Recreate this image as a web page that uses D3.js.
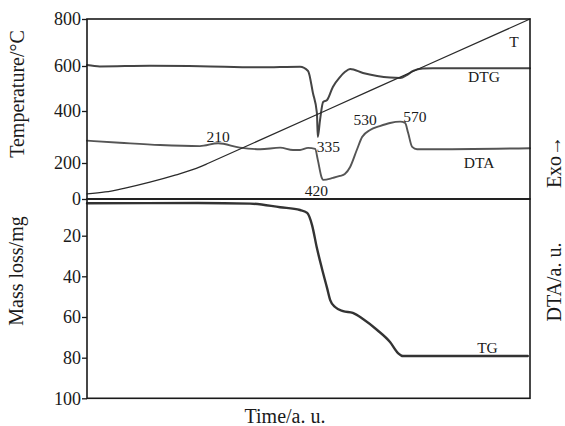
<!DOCTYPE html>
<html>
<head>
<meta charset="utf-8">
<script src="https://cdn.jsdelivr.net/npm/d3@7"></script>
<style>
  body { margin: 0; background: #fff; }
  text { font-family: "Liberation Serif", "DejaVu Serif", serif; fill: #1a1a1a; }
  .axis path { display: none; }
  .axis line { stroke: #1a1a1a; stroke-width: 1.3; }
  .axis text { font-size: 18px; }
  .curve { fill: none; stroke-linejoin: round; stroke-linecap: round; }
</style>
</head>
<body>
<div id="chart"></div>
<script>
// temperature (T) line, top panel
var tTime = [0, 4.1, 8.6, 14.2, 19.9, 25.5, 27.5, 53.7, 76.3, 100];
var tTemp = [28, 39, 61, 94, 133, 178, 200, 400, 600, 800];

// DTG, drawn on the temperature axis (a.u.)
var dtgTime = [0, 2.9, 14.2, 25.5, 39.1, 48.1, 49.9, 51.0, 51.9, 52.1, 52.6, 53.3, 54.2, 55.5, 57.1, 58.2, 59.4, 62.3, 65.5, 68.4, 70.7, 72.2, 73.6, 75.8, 78.1, 100];
var dtgVal = [604, 598, 601, 599, 594, 597, 578, 480, 392, 300, 365, 440, 449, 507, 551, 573, 587, 569, 556, 549, 547, 560, 578, 589, 590, 590];

// DTA, same axis (a.u.)
var dtaTime = [0, 7.4, 16.5, 25.5, 29.6, 34.5, 39.1, 43.6, 46.5, 48.1, 49.9, 51.5, 52.1, 53.0, 53.3, 55.5, 57.1, 58.2, 59.4, 60.9, 62.1, 63.9, 66.1, 68.4, 70.7, 71.8, 72.5, 73.4, 74.5, 76.7, 100];
var dtaVal = [286, 278, 269, 265, 276, 259, 253, 259, 250, 250, 258, 254, 212, 117, 106, 117, 128, 139, 178, 250, 300, 327, 342, 354, 359, 354, 315, 262, 253, 253, 257];

// TG, bottom panel
var tgTime = [0, 25, 36.8, 43.6, 48.1, 49.7, 50.8, 51.9, 53.0, 54.2, 54.9, 56.0, 57.8, 60.0, 62.3, 65.5, 68.4, 70.2, 71.3, 99.5];
var tgLoss = [2.3, 2.2, 2.5, 4.5, 6.0, 7.6, 14.2, 26.1, 35.9, 45.8, 51.7, 55.1, 57.1, 58.0, 61.0, 66.4, 72.3, 77.7, 79.2, 79.2];

var tempTicks = [0, 200, 400, 600, 800];
var massTicks = [20, 40, 60, 80, 100];

// curve labels: text, time, value, panel
var labelText = ["210", "335", "420", "530", "570", "T", "DTG", "DTA", "TG"];
var labelTime = [29.6, 54.5, 51.8, 62.8, 74.0, 96.4, 89.6, 88.5, 90.4];
var labelVal = [281, 242, 17, 346, 358, 681, 529, 172, 77.7];
var labelPanel = ["top", "top", "top", "top", "top", "top", "top", "top", "bottom"];

var width = 565, height = 426;
var svg = d3.select("#chart").append("svg")
    .attr("width", width)
    .attr("height", height);

var x = d3.scaleLinear().domain([0, 100]).range([87, 530]);
// the scanned axis is not evenly spaced, so follow its ticks
var yTop = d3.scaleLinear().domain([0, 200, 400, 600, 800]).range([199, 163, 111, 66, 19]);
var yBot = d3.scaleLinear().domain([0, 20, 40, 60, 80, 100]).range([199, 235.7, 276.3, 317, 357.7, 398.3]);

function drawCurve(times, vals, y, color, w) {
    var pts = times.map(function (t, i) { return [t, vals[i]]; });
    var line = d3.line()
        .curve(d3.curveMonotoneX)
        .x(function (d) { return x(d[0]); })
        .y(function (d) { return y(d[1]); });
    svg.append("path")
        .datum(pts)
        .attr("class", "curve")
        .attr("d", line)
        .attr("stroke", color)
        .attr("stroke-width", w);
}

drawCurve(dtaTime, dtaVal, yTop, "#555", 1.9);
drawCurve(dtgTime, dtgVal, yTop, "#444", 2);
drawCurve(tTime, tTemp, yTop, "#2a2a2a", 1.3);
drawCurve(tgTime, tgLoss, yBot, "#333", 2.4);

// panel frames
svg.append("rect")
    .attr("x", x(0)).attr("y", yTop(800))
    .attr("width", x(100) - x(0)).attr("height", yTop(0) - yTop(800))
    .attr("fill", "none").attr("stroke", "#1a1a1a").attr("stroke-width", 1.6);
svg.append("rect")
    .attr("x", x(0)).attr("y", yBot(0))
    .attr("width", x(100) - x(0)).attr("height", yBot(100) - yBot(0))
    .attr("fill", "none").attr("stroke", "#1a1a1a").attr("stroke-width", 1.6);

svg.append("g")
    .attr("class", "axis")
    .attr("transform", "translate(" + x(0) + ",0)")
    .call(d3.axisLeft(yTop).tickValues(tempTicks).tickSize(5).tickPadding(1));
svg.append("g")
    .attr("class", "axis")
    .attr("transform", "translate(" + x(0) + ",0)")
    .call(d3.axisLeft(yBot).tickValues(massTicks).tickSize(5).tickPadding(1));

svg.selectAll(".curve-label")
    .data(labelText)
    .enter()
    .append("text")
    .attr("class", "curve-label")
    .attr("x", function (d, i) { return x(labelTime[i]); })
    .attr("y", function (d, i) { return labelPanel[i] == "top" ? yTop(labelVal[i]) : yBot(labelVal[i]); })
    .attr("text-anchor", "middle")
    .style("font-size", "15.5px")
    .text(function (d) { return d; });

// axis titles
svg.append("text")
    .attr("transform", "translate(24,94) rotate(-90)")
    .attr("text-anchor", "middle")
    .style("font-size", "20px")
    .text("Temperature/°C");
svg.append("text")
    .attr("transform", "translate(23,271) rotate(-90)")
    .attr("text-anchor", "middle")
    .style("font-size", "20px")
    .text("Mass loss/mg");
svg.append("text")
    .attr("x", 285).attr("y", 423)
    .attr("text-anchor", "middle")
    .style("font-size", "20px")
    .text("Time/a. u.");
svg.append("text")
    .attr("transform", "translate(561,162) rotate(-90)")
    .attr("text-anchor", "middle")
    .style("font-size", "20px")
    .text("Exo→");
svg.append("text")
    .attr("transform", "translate(561,282) rotate(-90)")
    .attr("text-anchor", "middle")
    .style("font-size", "20px")
    .text("DTA/a. u.");
</script>
</body>
</html>
